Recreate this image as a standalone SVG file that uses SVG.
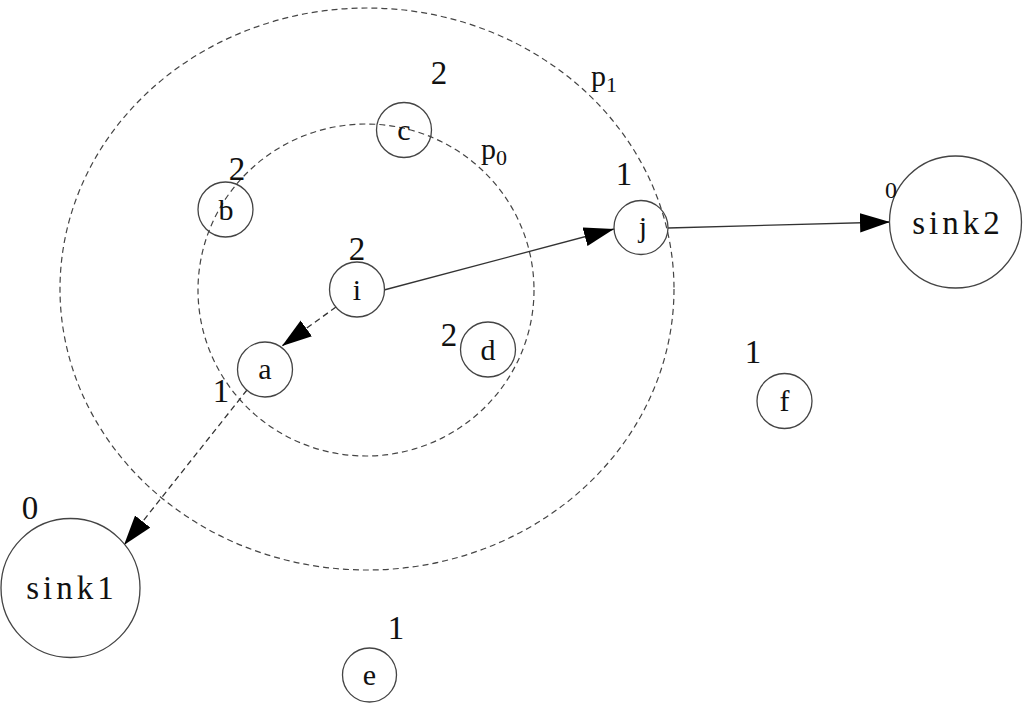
<svg xmlns="http://www.w3.org/2000/svg" width="1024" height="704" viewBox="0 0 1024 704">
<style>
  .rng { fill: none; stroke: #444; stroke-width: 1.2; stroke-dasharray: 6 4; }
  .nd { fill: none; stroke: #444; stroke-width: 1.3; }
  .lbl { font-family: "Liberation Serif", "DejaVu Serif", serif; fill: #111; text-anchor: middle; }
  .nt { font-size: 30px; }
  .num { font-size: 33px; }
  .sk { font-size: 33px; letter-spacing: 4px; }
  .pl { font-size: 30px; text-anchor: start; }
  .edge { fill: none; stroke: #333; stroke-width: 1.3; }
  .dash { stroke-dasharray: 6 4; }
</style>
<defs>
  <marker id="ah" markerUnits="userSpaceOnUse" markerWidth="30" markerHeight="20" viewBox="0 0 28 18" refX="28" refY="9" orient="auto">
    <path d="M0,0 L28,9 L0,18 Z" fill="#000"/>
  </marker>
</defs>
<rect width="1024" height="704" fill="#fff"/>
<g id="ranges">
  <ellipse class="rng" cx="367" cy="289" rx="307" ry="281"/>
  <ellipse class="rng" cx="366" cy="290" rx="168" ry="166"/>
  <text class="lbl pl" x="591" y="86">p<tspan font-size="22" dy="6">1</tspan></text>
  <text class="lbl pl" x="481" y="159">p<tspan font-size="22" dy="6">0</tspan></text>
</g>
<g id="connectors">
  <line class="edge" x1="384" y1="290" x2="614" y2="229" marker-end="url(#ah)"/>
  <line class="edge" x1="668" y1="228" x2="890" y2="222" marker-end="url(#ah)"/>
  <line class="edge dash" x1="336" y1="307" x2="282" y2="346" marker-end="url(#ah)"/>
  <line class="edge dash" x1="247" y1="390" x2="124" y2="545" marker-end="url(#ah)"/>
</g>
<g id="node-c"><circle class="nd" cx="404" cy="130" r="27.5"/><text class="lbl nt" x="404" y="140">c</text><text class="lbl num" x="439" y="84">2</text></g>
<g id="node-b"><circle class="nd" cx="225.5" cy="209.5" r="27.5"/><text class="lbl nt" x="226" y="220">b</text><text class="lbl num" x="237" y="180">2</text></g>
<g id="node-i"><circle class="nd" cx="357" cy="289.5" r="27.5"/><text class="lbl nt" x="357" y="300">i</text><text class="lbl num" x="357" y="260">2</text></g>
<g id="node-a"><circle class="nd" cx="265" cy="369.5" r="27.5"/><text class="lbl nt" x="265" y="379">a</text><text class="lbl num" x="221" y="402">1</text></g>
<g id="node-d"><circle class="nd" cx="488" cy="349.5" r="27.5"/><text class="lbl nt" x="488" y="360">d</text><text class="lbl num" x="449" y="346">2</text></g>
<g id="node-j"><circle class="nd" cx="641" cy="227.5" r="27"/><text class="lbl nt" x="643" y="237">j</text><text class="lbl num" x="624" y="185">1</text></g>
<g id="node-sink2"><circle class="nd" cx="955.5" cy="222" r="66"/><text class="lbl sk" x="958" y="234">sink2</text><text class="lbl" x="891" y="198" font-size="24">0</text></g>
<g id="node-sink1"><circle class="nd" cx="70.5" cy="588" r="69.5"/><text class="lbl sk" x="72" y="599">sink1</text><text class="lbl num" x="30" y="519">0</text></g>
<g id="node-e"><circle class="nd" cx="369.5" cy="675" r="27"/><text class="lbl nt" x="369.5" y="685">e</text><text class="lbl num" x="396" y="639">1</text></g>
<g id="node-f"><circle class="nd" cx="784.5" cy="401" r="27.5"/><text class="lbl nt" x="784.5" y="411">f</text><text class="lbl num" x="753" y="363">1</text></g>
</svg>
